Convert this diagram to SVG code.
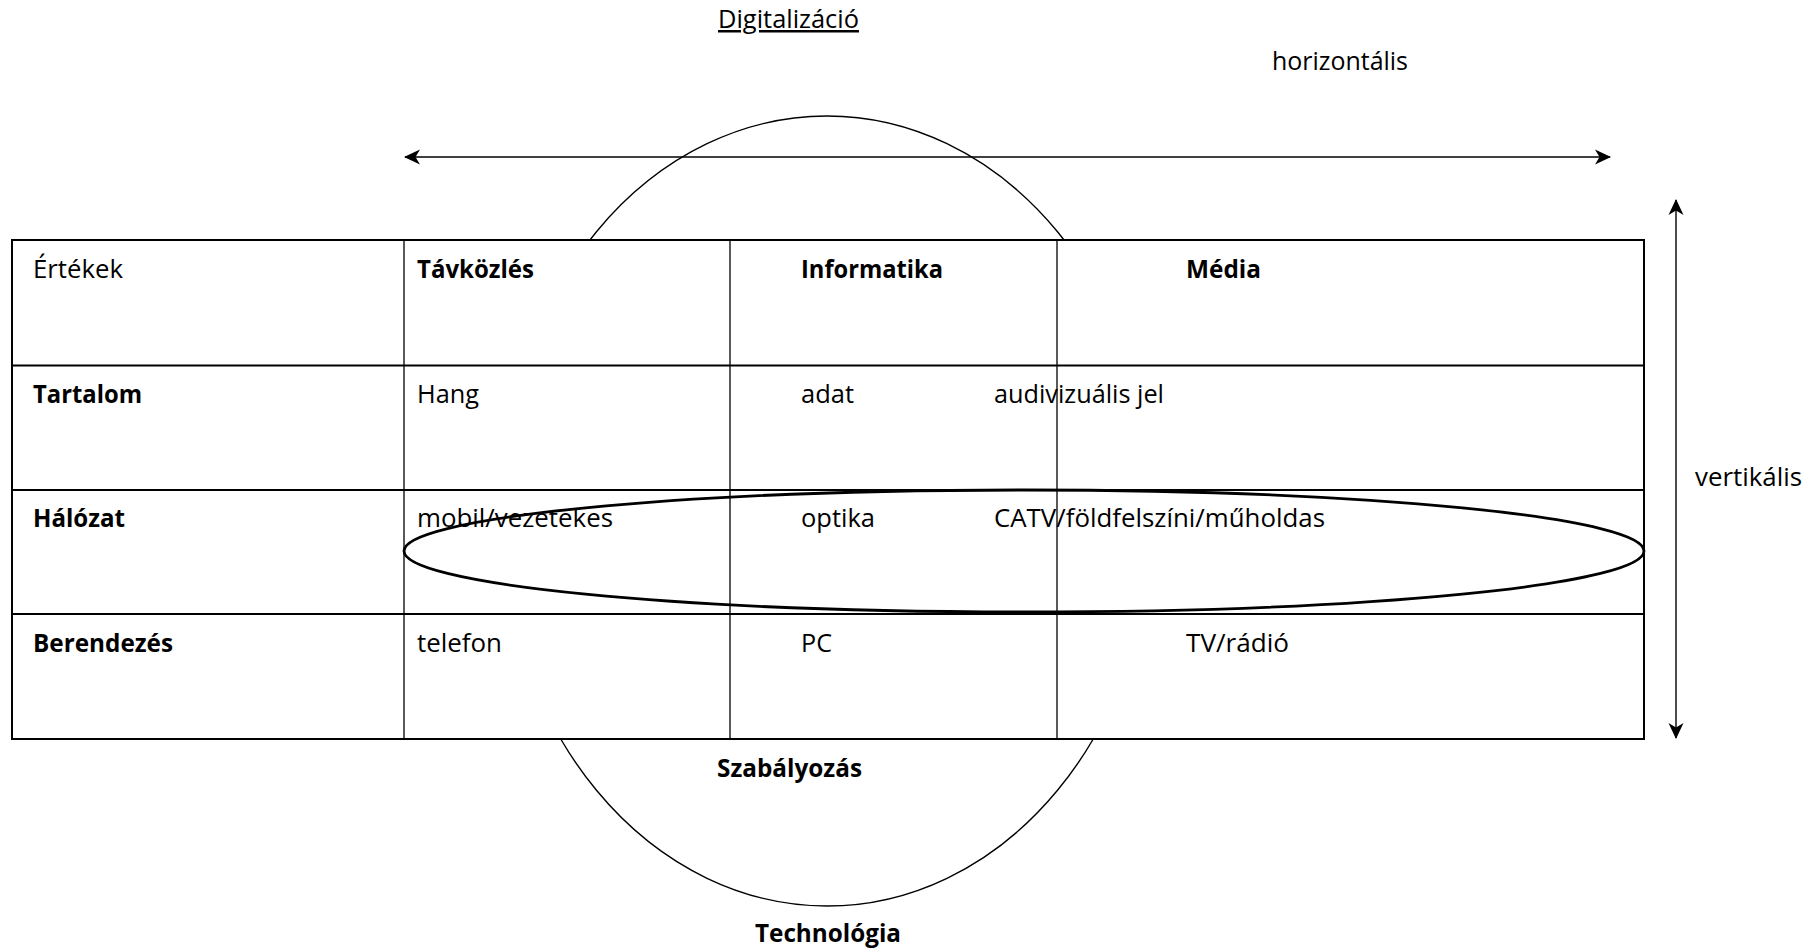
<svg xmlns="http://www.w3.org/2000/svg" width="1818" height="950" viewBox="0 0 1818 950">
  <style>
    text { font-family: "Open Sans", "Noto Sans", "DejaVu Sans", sans-serif; font-size: 25px; fill: #000; }
    .b { font-weight: bold; }
    .grid { stroke: #000; fill: none; }
    .h { stroke-width: 2; }
    .v { stroke-width: 1.3; }
    .conn { stroke: #000; stroke-width: 1.4; fill: none; }
  </style>
  <defs>
    <marker id="arr" viewBox="0 0 16 16" refX="15" refY="8" markerWidth="16" markerHeight="16" markerUnits="userSpaceOnUse" orient="auto-start-reverse">
      <path d="M0,0.5 L16,8 L0,15.5 L4.5,8 Z" fill="#000"/>
    </marker>
  </defs>
  <rect width="1818" height="950" fill="#fff"/>

  <g id="technologia-ellipse">
    <ellipse cx="827" cy="511" rx="326" ry="395" fill="none" stroke="#000" stroke-width="1.4"/>
  </g>

  <g id="connectors">
    <line class="conn" x1="405" y1="157" x2="1610" y2="157" marker-start="url(#arr)" marker-end="url(#arr)"/>
    <line class="conn" x1="1676" y1="200" x2="1676" y2="738" marker-start="url(#arr)" marker-end="url(#arr)"/>
  </g>

  <g id="table">
    <rect x="12" y="240" width="1632" height="499" fill="#fff" stroke="none"/>
    <line class="grid v" x1="404" y1="240" x2="404" y2="739"/>
    <line class="grid v" x1="730" y1="240" x2="730" y2="739"/>
    <line class="grid v" x1="1057" y1="240" x2="1057" y2="739"/>
    <line class="grid h" x1="12" y1="365.5" x2="1644" y2="365.5"/>
    <line class="grid h" x1="12" y1="490" x2="1644" y2="490"/>
    <line class="grid h" x1="12" y1="614" x2="1644" y2="614"/>
    <rect class="grid h" x="12" y="240" width="1632" height="499"/>
  </g>

  <g id="row-header">
    <text x="33" y="278" textLength="90" lengthAdjust="spacingAndGlyphs">Értékek</text>
    <text class="b" x="417" y="278" textLength="117" lengthAdjust="spacingAndGlyphs">Távközlés</text>
    <text class="b" x="801" y="278" textLength="142" lengthAdjust="spacingAndGlyphs">Informatika</text>
    <text class="b" x="1186" y="278" textLength="75" lengthAdjust="spacingAndGlyphs">Média</text>
  </g>
  <g id="row-tartalom">
    <text class="b" x="33" y="403" textLength="109" lengthAdjust="spacingAndGlyphs">Tartalom</text>
    <text x="417" y="403" textLength="62" lengthAdjust="spacingAndGlyphs">Hang</text>
    <text x="801" y="403" textLength="53" lengthAdjust="spacingAndGlyphs">adat</text>
    <text x="994" y="403" textLength="170" lengthAdjust="spacingAndGlyphs">audivizuális jel</text>
  </g>
  <g id="row-halozat">
    <text class="b" x="33" y="527" textLength="92" lengthAdjust="spacingAndGlyphs">Hálózat</text>
    <text x="417" y="527" textLength="196" lengthAdjust="spacingAndGlyphs">mobil/vezetekes</text>
    <text x="801" y="527" textLength="74" lengthAdjust="spacingAndGlyphs">optika</text>
    <text x="994" y="527" textLength="331" lengthAdjust="spacingAndGlyphs">CATV/földfelszíni/műholdas</text>
  </g>
  <g id="row-berendezes">
    <text class="b" x="33" y="652" textLength="140" lengthAdjust="spacingAndGlyphs">Berendezés</text>
    <text x="417" y="652" textLength="85" lengthAdjust="spacingAndGlyphs">telefon</text>
    <text x="801" y="652" textLength="31" lengthAdjust="spacingAndGlyphs">PC</text>
    <text x="1186" y="652" textLength="103" lengthAdjust="spacingAndGlyphs">TV/rádió</text>
  </g>

  <g id="halozat-ellipse">
    <ellipse cx="1024" cy="551" rx="620" ry="61" fill="none" stroke="#000" stroke-width="2.8"/>
  </g>

  <g id="label-digitalizacio">
    <text x="718" y="28" textLength="141" lengthAdjust="spacingAndGlyphs" text-decoration="underline">Digitalizáció</text>
  </g>
  <g id="label-horizontalis">
    <text x="1272" y="70" textLength="136" lengthAdjust="spacingAndGlyphs">horizontális</text>
  </g>
  <g id="label-vertikalis">
    <text x="1695" y="486" textLength="107" lengthAdjust="spacingAndGlyphs">vertikális</text>
  </g>
  <g id="label-szabalyozas">
    <text class="b" x="717" y="777" textLength="145" lengthAdjust="spacingAndGlyphs">Szabályozás</text>
  </g>
  <g id="label-technologia">
    <text class="b" x="755" y="942" textLength="146" lengthAdjust="spacingAndGlyphs">Technológia</text>
  </g>
</svg>
